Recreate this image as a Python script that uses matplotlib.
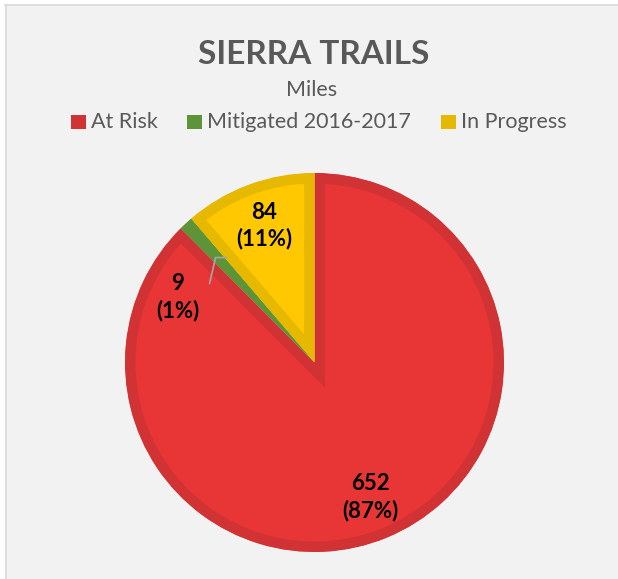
import matplotlib
matplotlib.use("Agg")
import matplotlib.pyplot as plt
from matplotlib.patches import Rectangle
from matplotlib.lines import Line2D
import numpy as np

categories = ["At Risk", "Mitigated 2016-2017", "In Progress"]
values = [652, 9, 84]
pct_labels = [87, 1, 11]
fill_colors = ["#e83535", "#6a9f3e", "#ffc800"]
edge_colors = ["#d13234", "#5e9438", "#e6b800"]
title = "SIERRA TRAILS"
subtitle = "Miles"

W, H = 618, 579
plt.rcParams['font.family'] = ['Lato', 'DejaVu Sans']
fig = plt.figure(figsize=(W / 100, H / 100), dpi=100, facecolor="#f2f2f2")

# outer frame (white margin top/left, gray line)
fig.patches.append(Rectangle((0, 1 - 4.5 / H), 1, 4.5 / H, transform=fig.transFigure,
                             facecolor="white", edgecolor="none"))
fig.patches.append(Rectangle((0, 0), 5 / W, 1, transform=fig.transFigure,
                             facecolor="white", edgecolor="none"))
fig.lines.append(Line2D([5 / W, 1], [1 - 5 / H, 1 - 5 / H], transform=fig.transFigure,
                        color="#d9d9d9", lw=1.2))
fig.lines.append(Line2D([5.5 / W, 5.5 / W], [0, 1 - 5 / H], transform=fig.transFigure,
                        color="#d9d9d9", lw=1.2))

# pie axes: center (314.5, 362.5) px, radius 189.5
cx, cy, R = 314.5, 362.5, 189.5
ax = fig.add_axes([(cx - R) / W, (H - cy - R) / H, 2 * R / W, 2 * R / H])
ax.set_facecolor("none")
wedges, _ = ax.pie(values, colors=fill_colors, startangle=90, counterclock=False,
                   radius=1.0, wedgeprops=dict(linewidth=15.0, joinstyle="miter"))
for w, ec in zip(wedges, edge_colors):
    w.set_edgecolor(ec)
    w.set_clip_on(True)
    w.set_clip_path(w)
ax.set_xlim(-1, 1)
ax.set_ylim(-1, 1)
ax.set_aspect("equal")
ax.axis("off")

label_r = 0.77
for i, (w, v, p) in enumerate(zip(wedges, values, pct_labels)):
    txt = f"{v}\n({p}%)"
    if i == 1:
        lx, ly = -0.723, 0.343
        ax.plot([-0.554, -0.522, -0.464], [0.417, 0.554, 0.554], color="#a6a6a6", lw=1.2)
    else:
        ang = np.deg2rad((w.theta1 + w.theta2) / 2)
        lx, ly = label_r * np.cos(ang), label_r * np.sin(ang)
    ax.text(lx, ly, txt, ha="center", va="center", fontsize=16, fontweight="bold",
            color="black", linespacing=1.3)

# titles
fig.text(313.5 / W, 1 - 54 / H, title, ha="center", va="center", fontsize=24,
         fontweight="bold", color="#595959")
fig.text(311.5 / W, 1 - 90 / H, subtitle, ha="center", va="center", fontsize=15.5,
         color="#595959")

# legend
leg_y = 1 - 122 / H
items = [(71, 91), (187, 207), (441, 461)]
for (mx, tx), name, ec in zip(items, categories, edge_colors):
    fig.patches.append(Rectangle((mx / W, leg_y - 7 / H), 14.5 / W, 14 / H,
                                 transform=fig.transFigure, facecolor=ec, edgecolor="none"))
    fig.text(tx / W, leg_y, name, ha="left", va="center", fontsize=15.5, color="#595959")

fig.savefig("out.png", dpi=100, facecolor=fig.get_facecolor())
